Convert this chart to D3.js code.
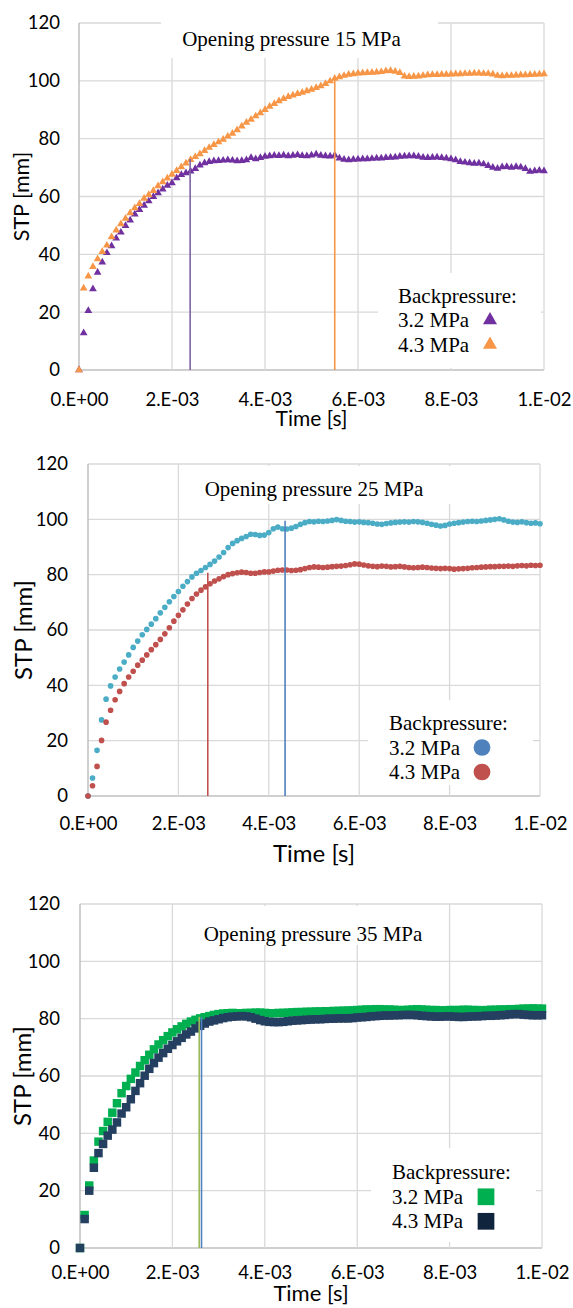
<!DOCTYPE html>
<html>
<head>
<meta charset="utf-8">
<script src="https://cdn.jsdelivr.net/npm/d3@7"></script>
<style>
  body { margin: 0; background: #fff; }
  svg { display: block; }
</style>
</head>
<body>
<div id="chart"></div>
<script>
// sampling interval of the recorded STP traces
const sampleStep = 1e-4;
const times = d3.range(101).map(i => i * sampleStep);

const yTicks = [0, 20, 40, 60, 80, 100, 120];
const xTicks = [0, 0.002, 0.004, 0.006, 0.008, 0.01];
const xTickLabels = ["0.E+00", "2.E-03", "4.E-03", "6.E-03", "8.E-03", "1.E-02"];
const seriesNames = ["3.2 MPa", "4.3 MPa"];
const titles = ["Opening pressure 15 MPa", "Opening pressure 25 MPa", "Opening pressure 35 MPa"];

// Opening pressure 15 MPa
const stp15_32 = [0, 12.8, 20.5, 28.0, 33.7, 37.3, 40.5, 42.9, 45.6, 47.6, 49.9,
  51.8, 53.9, 55.4, 56.9, 58.4, 59.9, 61.2, 62.5, 63.8, 64.7,
  66.4, 67.5, 68.1, 68.7, 69.6, 70.8, 71.6, 72.0, 72.3, 72.4,
  72.5, 72.6, 72.5, 72.3, 72.4, 72.6, 73.4, 73.0, 73.4, 73.8,
  74.0, 74.2, 74.1, 74.3, 74.0, 74.2, 74.4, 74.1, 74.0, 74.3,
  74.6, 74.2, 74.0, 73.9, 74.3, 73.2, 72.8, 72.6, 72.8, 72.9,
  73.0, 73.0, 73.1, 73.2, 73.2, 73.4, 73.5, 73.6, 73.8, 73.9,
  74.0, 74.0, 73.8, 73.5, 73.4, 73.5, 73.6, 73.4, 73.2, 73.0,
  72.6, 72.0, 71.8, 71.6, 71.4, 71.5, 71.2, 70.6, 70.0, 69.7,
  70.2, 70.3, 70.0, 70.3, 70.1, 69.6, 68.6, 68.8, 69.0, 68.8];
const stp15_43 = [0, 28.3, 32.4, 35.7, 38.4, 40.9, 43.1, 46.0, 48.3, 50.5, 52.4,
  54.3, 56.0, 57.5, 59.3, 60.6, 62.0, 63.6, 65.0, 66.3, 67.6,
  68.9, 70.2, 71.5, 72.7, 73.7, 74.7, 75.8, 76.9, 77.9, 78.8,
  79.7, 80.8, 81.8, 83.0, 84.3, 85.6, 86.6, 87.8, 88.9, 90.0,
  91.1, 92.1, 93.0, 93.8, 94.5, 95.0, 95.5, 96.0, 96.5, 97.0,
  97.6, 98.2, 99.0, 99.9, 100.8, 101.3, 101.8, 102.2, 102.4, 102.6,
  102.7, 102.8, 102.9, 103.0, 103.1, 103.4, 103.5, 103.2, 102.8, 101.6,
  101.4, 101.5, 101.6, 101.8, 102.0, 102.1, 102.1, 102.2, 102.2, 102.3,
  102.4, 102.4, 102.5, 102.5, 102.6, 102.6, 102.5, 102.5, 102.3, 101.8,
  101.7, 101.8, 101.8, 101.9, 102.0, 102.0, 102.1, 102.2, 102.3, 102.4];

// Opening pressure 25 MPa
const stp25_32 = [0, 6.5, 16.5, 27.5, 35.0, 39.8, 43.0, 45.9, 48.4, 51.0, 53.7,
  56.0, 58.3, 60.2, 62.1, 64.1, 66.2, 68.2, 70.2, 72.1, 73.9,
  75.8, 77.5, 79.2, 80.5, 81.5, 82.6, 83.7, 84.9, 86.4, 88.0,
  89.8, 91.3, 92.3, 93.1, 93.8, 94.6, 94.5, 94.2, 94.3, 95.2,
  96.6, 97.2, 96.6, 96.5, 96.8, 97.4, 98.2, 98.8, 99.2, 99.1,
  99.3, 99.2, 99.4, 99.6, 99.9, 99.6, 99.3, 99.2, 99.0, 99.1,
  98.9, 98.8, 98.6, 98.3, 98.2, 98.5, 98.7, 98.9, 99.0, 99.1,
  99.0, 99.2, 99.1, 98.9, 98.6, 98.2, 97.9, 97.6, 97.8, 98.3,
  98.6, 98.8, 99.0, 99.2, 99.3, 99.2, 99.4, 99.6, 99.8, 100.0,
  100.2, 99.8, 99.3, 99.0, 98.9, 99.1, 98.8, 98.6, 98.7, 98.4];
const stp25_43 = [0, 3.7, 10.7, 20.1, 26.7, 31.0, 34.8, 37.8, 40.6, 43.0, 45.1,
  47.3, 49.1, 51.0, 52.9, 54.7, 56.6, 58.6, 60.8, 63.2, 65.3,
  67.3, 69.4, 71.4, 73.0, 74.4, 75.6, 76.7, 77.7, 78.5, 79.3,
  80.0, 80.4, 80.7, 80.9, 80.8, 80.5, 80.5, 80.8, 81.0, 81.0,
  81.3, 81.6, 81.7, 81.7, 81.5, 81.6, 81.8, 82.2, 82.6, 82.8,
  82.7, 82.6, 82.7, 82.9, 83.0, 83.1, 83.3, 83.6, 83.9, 83.8,
  83.5, 83.2, 83.0, 82.9, 83.1, 83.0, 82.8, 82.9, 83.0, 82.8,
  82.6, 82.5, 82.6, 82.7, 82.6, 82.4, 82.3, 82.2, 82.3, 82.2,
  82.0, 82.1, 82.2, 82.3, 82.5, 82.6, 82.7, 82.8, 82.9, 82.9,
  83.0, 83.0, 83.1, 83.0, 83.2, 83.3, 83.2, 83.4, 83.3, 83.4];

// Opening pressure 35 MPa
const stp35_32 = [0, 11.5, 21.8, 30.5, 37.1, 40.8, 44.0, 47.2, 50.5, 54.0, 56.5,
  59.0, 61.2, 63.5, 65.5, 67.4, 69.3, 71.0, 72.5, 73.9, 75.2,
  76.3, 77.3, 78.2, 79.0, 79.6, 80.1, 80.5, 80.9, 81.3, 81.6,
  81.8, 81.9, 82.0, 81.9, 81.9, 82.0, 82.0, 82.1, 82.1, 82.0,
  81.9, 81.9, 82.0, 82.0, 82.1, 82.2, 82.3, 82.3, 82.4, 82.4,
  82.5, 82.5, 82.6, 82.6, 82.7, 82.7, 82.8, 82.8, 82.9, 83.0,
  83.1, 83.2, 83.2, 83.3, 83.3, 83.2, 83.2, 83.1, 83.0, 83.0,
  83.1, 83.2, 83.3, 83.2, 83.1, 83.0, 83.0, 82.9, 82.9, 83.0,
  83.0, 83.0, 83.1, 83.1, 83.0, 83.0, 82.9, 83.0, 83.1, 83.1,
  83.2, 83.2, 83.3, 83.3, 83.4, 83.5, 83.5, 83.6, 83.5, 83.5];
const stp35_43 = [0, 10.1, 20.0, 28.0, 33.1, 36.3, 39.2, 41.3, 43.8, 46.9, 49.1,
  51.9, 54.8, 57.5, 60.1, 62.5, 64.5, 66.4, 68.0, 69.5, 70.8,
  72.1, 73.3, 74.5, 75.5, 76.6, 77.5, 78.3, 79.0, 79.4, 79.8,
  80.2, 80.5, 80.7, 80.8, 80.9, 80.8, 80.5, 80.0, 79.5, 79.1,
  78.9, 78.8, 78.8, 78.9, 79.1, 79.3, 79.4, 79.5, 79.6, 79.7,
  79.8, 79.8, 79.9, 80.0, 80.0, 80.1, 80.1, 80.1, 80.2, 80.4,
  80.5, 80.6, 80.8, 80.9, 81.0, 81.1, 81.1, 81.2, 81.2, 81.3,
  81.3, 81.3, 81.2, 81.0, 80.9, 80.8, 80.7, 80.7, 80.8, 80.8,
  80.7, 80.6, 80.6, 80.7, 80.8, 80.8, 80.9, 81.0, 81.0, 81.1,
  81.2, 81.3, 81.5, 81.6, 81.6, 81.4, 81.3, 81.2, 81.2, 81.2];

// vertical markers (time, height)
const marks15 = [[0.00239, 73], [0.0055, 101]];
const marks25 = [[0.00265, 80.7], [0.00436, 99.5]];
const marks35 = [[0.00258, 80.7], [0.00263, 80.7]];

const panels = [
  { title: titles[0], series: [stp15_32, stp15_43], marks: marks15,
    left: 79, right: 544, top: 23, bottom: 370,
    symbol: d3.symbolTriangle, size: 26, legendSize: 85,
    colors: ["#7030A0", "#F79646"], legendColors: ["#7030A0", "#F79646"], markColors: ["#8064A2", "#F79646"],
    titleX: 291.5, titleY: 45.5, titleMask: [161, 20, 438, 58],
    legendMask: [378, 273, 541, 368], legendX: 398, legendY: 302.7, legendMarkX: 490,
    timeY: 426, timeSize: 21, stpX: 29, stpSize: 21.5, xPad: 23, yPad: 19 },
  { title: titles[1], series: [stp25_32, stp25_43], marks: marks25,
    left: 88, right: 540, top: 464, bottom: 796,
    symbol: d3.symbolCircle, size: 25, legendSize: 220,
    colors: ["#4BACC6", "#C0504D"], legendColors: ["#4F81BD", "#C0504D"], markColors: ["#C0504D", "#4F81BD"],
    titleX: 314, titleY: 495.5, titleMask: [185, 466, 476, 504],
    legendMask: [368, 700, 533, 785], legendX: 389, legendY: 730, legendMarkX: 482,
    timeY: 862, timeSize: 24, stpX: 32, stpSize: 24, xPad: 21, yPad: 20 },
  { title: titles[2], series: [stp35_32, stp35_43], marks: marks35,
    left: 80, right: 542, top: 904, bottom: 1248,
    symbol: d3.symbolSquare, size: 72, legendSize: 280,
    colors: ["#00B050", "#243F60"], legendColors: ["#00B050", "#10243E"], markColors: ["#9BBB59", "#4F81BD"],
    titleX: 313, titleY: 941, titleMask: [195, 906, 445, 945],
    legendMask: [371, 1148, 536, 1242], legendX: 392, legendY: 1179.3, legendMarkX: 486,
    timeY: 1301, timeSize: 22, stpX: 31, stpSize: 24, xPad: 18, yPad: 20 }
];

const svg = d3.select("#chart").append("svg")
  .attr("width", 573)
  .attr("height", 1308);

panels.forEach(p => {
  const x = d3.scaleLinear().domain([0, 0.01]).range([p.left, p.right]);
  const y = d3.scaleLinear().domain([0, 120]).range([p.bottom, p.top]);
  const g = svg.append("g");

  // grid
  g.selectAll("line.hgrid").data(yTicks).join("line")
    .attr("class", "hgrid")
    .attr("x1", p.left).attr("x2", p.right)
    .attr("y1", d => y(d)).attr("y2", d => y(d))
    .attr("stroke", d => d === 0 ? "#bfbfbf" : "#d9d9d9")
    .attr("stroke-width", d => d === 0 ? 1.5 : 1.3);
  g.selectAll("line.vgrid").data(xTicks).join("line")
    .attr("class", "vgrid")
    .attr("x1", d => x(d)).attr("x2", d => x(d))
    .attr("y1", p.top).attr("y2", p.bottom)
    .attr("stroke", d => d === 0 ? "#bfbfbf" : "#d9d9d9")
    .attr("stroke-width", d => d === 0 ? 1.5 : 1.3);

  // white boxes behind title and legend
  [p.titleMask, p.legendMask].forEach(m => {
    g.append("rect")
      .attr("x", m[0]).attr("y", m[1])
      .attr("width", m[2] - m[0]).attr("height", m[3] - m[1])
      .attr("fill", "#fff");
  });

  // axes
  const xAxis = d3.axisBottom(x).tickValues(xTicks)
    .tickFormat((d, i) => xTickLabels[i]).tickSize(0).tickPadding(p.xPad);
  g.append("g").attr("transform", `translate(0,${p.bottom})`)
    .call(xAxis)
    .attr("font-family", "Lato, 'Open Sans', sans-serif").attr("font-size", 18.5)
    .call(a => a.select(".domain").remove());
  const yAxis = d3.axisLeft(y).tickValues(yTicks).tickSize(0).tickPadding(p.yPad);
  g.append("g").attr("transform", `translate(${p.left},0)`)
    .call(yAxis)
    .attr("font-family", "Lato, 'Open Sans', sans-serif").attr("font-size", 18.5)
    .call(a => a.select(".domain").remove());

  g.append("text")
    .attr("x", (p.left + p.right) / 2).attr("y", p.timeY)
    .attr("text-anchor", "middle")
    .attr("font-family", "Lato, 'Open Sans', sans-serif").attr("font-size", p.timeSize)
    .text("Time [s]");
  g.append("text")
    .attr("transform", `translate(${p.stpX},${(p.top + p.bottom) / 2}) rotate(-90)`)
    .attr("text-anchor", "middle")
    .attr("font-family", "Lato, 'Open Sans', sans-serif").attr("font-size", p.stpSize)
    .text("STP [mm]");

  // data markers
  p.series.forEach((s, k) => {
    g.append("g").selectAll("path")
      .data(times.map((t, i) => ({ t: t, v: s[i] })))
      .join("path")
      .attr("d", d3.symbol(p.symbol, p.size))
      .attr("transform", d => `translate(${x(d.t)},${y(d.v)})`)
      .attr("fill", p.colors[k]);
  });

  // vertical markers
  g.selectAll("line.mark").data(p.marks).join("line")
    .attr("class", "mark")
    .attr("x1", d => x(d[0])).attr("x2", d => x(d[0]))
    .attr("y1", y(0)).attr("y2", d => y(d[1]))
    .attr("stroke", (d, i) => p.markColors[i])
    .attr("stroke-width", 1.6);

  // title
  g.append("text")
    .attr("x", p.titleX).attr("y", p.titleY)
    .attr("text-anchor", "middle")
    .attr("font-family", "'Liberation Serif', 'Times New Roman', serif").attr("font-size", 21)
    .text(p.title);

  // legend
  const lg = g.append("g").attr("font-family", "'Liberation Serif', 'Times New Roman', serif").attr("font-size", 21);
  lg.append("text").attr("x", p.legendX).attr("y", p.legendY).text("Backpressure:");
  seriesNames.forEach((name, k) => {
    const by = p.legendY + 24.5 * (k + 1);
    lg.append("text").attr("x", p.legendX).attr("y", by).text(name);
    lg.append("path")
      .attr("d", d3.symbol(p.symbol, p.legendSize))
      .attr("transform", `translate(${p.legendMarkX},${by - 7})`)
      .attr("fill", p.legendColors[k]);
  });
});
</script>
</body>
</html>
